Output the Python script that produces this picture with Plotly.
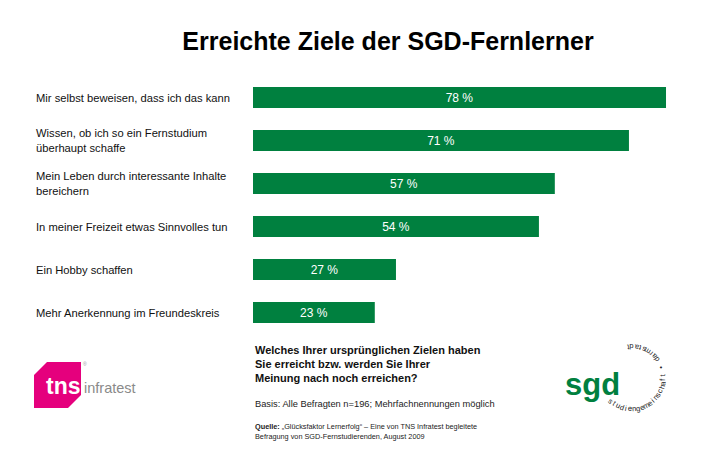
import math
import plotly.graph_objects as go

# ---- data ----
categories = [
    "Mir selbst beweisen, dass ich das kann",
    "Wissen, ob ich so ein Fernstudium<br>überhaupt schaffe",
    "Mein Leben durch interessante Inhalte<br>bereichern",
    "In meiner Freizeit etwas Sinnvolles tun",
    "Ein Hobby schaffen",
    "Mehr Anerkennung im Freundeskreis",
]
values = [78, 71, 57, 54, 27, 23]

title_text = "Erreichte Ziele der SGD-Fernlerner"
question_lines = ["Welches Ihrer ursprünglichen Zielen haben",
                  "Sie erreicht bzw. werden Sie Ihrer",
                  "Meinung nach noch erreichen?"]
basis_text = "Basis: Alle Befragten n=196; Mehrfachnennungen möglich"
quelle_lines = ["<b>Quelle:</b> „Glücksfaktor Lernerfolg“ – Eine von TNS Infratest begleitete",
                "Befragung von SGD-Fernstudierenden, August 2009"]
ring_text = "studiengemeinschaft • darmstadt"

GREEN = "#00803F"
PINK = "#E5007D"
FONT = "Liberation Sans, Arial, Helvetica, sans-serif"

W, H = 710, 476
OFF = 8  # page body margin
ML, MT = 253 - OFF, 76 - OFF
MR = W - (703 - OFF)
MB = H - (334 - OFF)
PW = W - ML - MR
PH = H - MT - MB


def X(px):
    return (px - OFF - ML) / PW


def Y(py):
    return (H - MB - (py - OFF)) / PH


ypos = list(range(len(categories)))

fig = go.Figure()
fig.add_trace(go.Bar(
    x=values, y=ypos, orientation="h",
    marker=dict(color=GREEN, line=dict(width=0)),
    width=0.49,
    text=[f"{v} %" for v in values],
    textposition="inside", insidetextanchor="middle",
    textfont=dict(color="white", size=12, family=FONT),
    hoverinfo="skip",
))

annotations = []
for i, c in enumerate(categories):
    annotations.append(dict(
        x=X(34), xref="paper", y=i, yref="y", text=c, showarrow=False,
        xanchor="left", yanchor="middle", align="left",
        font=dict(size=11.2, color="#111", family=FONT),
    ))

for j, line in enumerate(question_lines):
    annotations.append(dict(
        x=X(253), xref="paper", y=Y(350 + 14 * j), yref="paper", text="<b>" + line + "</b>",
        showarrow=False, xanchor="left", yanchor="middle", align="left",
        font=dict(size=11, color="#111", family=FONT),
    ))
annotations.append(dict(
    x=X(253), xref="paper", y=Y(404), yref="paper", text=basis_text,
    showarrow=False, xanchor="left", yanchor="middle", align="left",
    font=dict(size=9.3, color="#222", family=FONT),
))
for j, line in enumerate(quelle_lines):
    annotations.append(dict(
        x=X(253), xref="paper", y=Y(426 + 10 * j), yref="paper", text=line,
        showarrow=False, xanchor="left", yanchor="middle", align="left",
        font=dict(size=7.3, color="#222", family=FONT),
    ))

# tns infratest logo
annotations.append(dict(
    x=X(63), xref="paper", y=Y(386), yref="paper", text="<b>tns</b>",
    showarrow=False, xanchor="center", yanchor="middle",
    font=dict(size=23, color="white", family=FONT),
))
annotations.append(dict(
    x=X(82), xref="paper", y=Y(388), yref="paper", text="infratest",
    showarrow=False, xanchor="left", yanchor="middle",
    font=dict(size=14.5, color="#8a8a8a", family=FONT),
))
annotations.append(dict(
    x=X(81), xref="paper", y=Y(364), yref="paper", text="®",
    showarrow=False, xanchor="left", yanchor="middle",
    font=dict(size=5, color="#999", family=FONT),
))

# sgd logo
annotations.append(dict(
    x=X(592), xref="paper", y=Y(384), yref="paper", text="<b>sgd</b>",
    showarrow=False, xanchor="center", yanchor="middle",
    font=dict(size=31, color=GREEN, family=FONT),
))
cx, cy, r = 632, 378, 31
start, end = 228, 458
n = len(ring_text)
for k, ch in enumerate(ring_text):
    if ch == " ":
        continue
    th = start + (end - start) * k / (n - 1)
    t = math.radians(th)
    px = cx + r * math.cos(t)
    py = cy - r * math.sin(t)
    annotations.append(dict(
        x=X(px), xref="paper", y=Y(py), yref="paper", text=ch,
        showarrow=False, xanchor="center", yanchor="middle",
        textangle=270 - th,
        font=dict(size=7.5, color="#222", family=FONT),
    ))

pink_path = "M {} {} L {} {} L {} {} L {} {} L {} {} L {} {} Z".format(
    X(47), Y(362), X(81), Y(362), X(81), Y(395),
    X(68), Y(408), X(34), Y(408), X(34), Y(375))

fig.update_layout(
    width=W, height=H,
    margin=dict(l=ML, r=MR, t=MT, b=MB, pad=0),
    paper_bgcolor="white", plot_bgcolor="white",
    showlegend=False,
    title=dict(text="<b>" + title_text + "</b>", x=(388 - OFF) / W, y=1 - (41 - OFF) / H,
               xanchor="center", yanchor="middle",
               font=dict(size=25, color="black", family=FONT)),
    xaxis=dict(range=[0, PW / 5.295], visible=False, fixedrange=True),
    yaxis=dict(range=[len(categories) - 0.5, -0.5], visible=False, fixedrange=True),
    annotations=annotations,
    shapes=[dict(type="path", path=pink_path, xref="paper", yref="paper",
                 fillcolor=PINK, line=dict(width=0), layer="below")],
)

fig.write_html("out.html")
